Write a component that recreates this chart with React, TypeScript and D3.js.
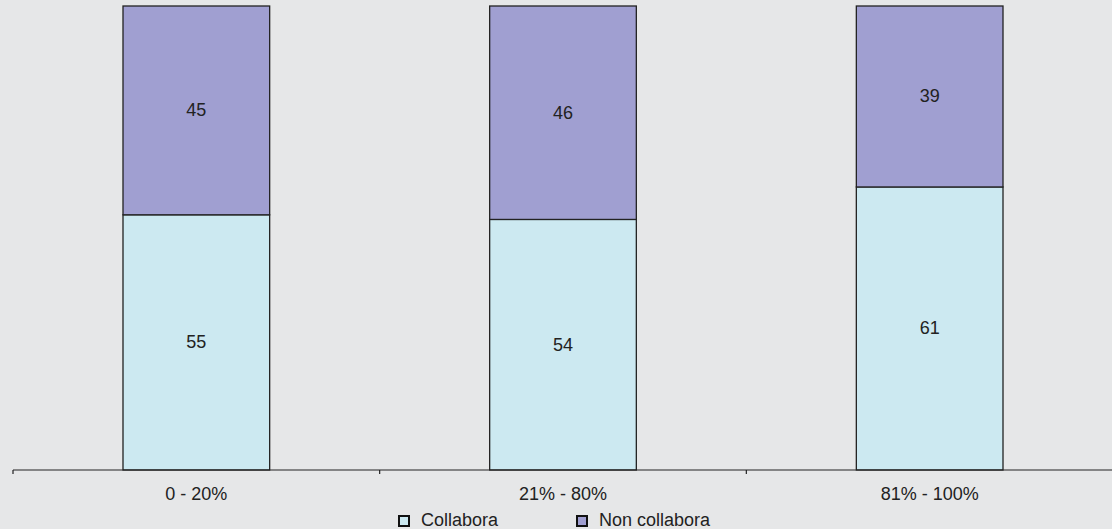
import React from "react";
import * as d3 from "d3";

const categories = ["0 - 20%", "21% - 80%", "81% - 100%"];
const collabora = [55, 54, 61];
const nonCollabora = [45, 46, 39];
const seriesNames = ["Collabora", "Non collabora"];
const seriesColors = ["#cce9f1", "#a09fd1"];

export default function App() {
  const W = 1112, H = 529;
  const x = d3.scaleBand().domain(categories).range([13, 1113]).paddingInner(0).paddingOuter(0);
  const y = d3.scaleLinear().domain([0, 100]).range([470, 6]);
  const bw = x.bandwidth() * 0.4;
  const font = "'Liberation Sans', Arial, sans-serif";
  const fs = 18;
  const series = [collabora, nonCollabora];
  const stacked = categories.map((c, i) => {
    let acc = 0;
    return series.map((s, k) => {
      const y0 = acc;
      acc += s[i];
      return { k, y0, y1: acc, v: s[i] };
    });
  });
  return (
    <svg width={W} height={H} style={{ position: "absolute", left: 0, top: 0, display: "block" }}>
      <rect x={0} y={0} width={W} height={H} fill="#e6e7e8" />
      {categories.map((c, i) => {
        const cx = (x(c) as number) + x.bandwidth() / 2;
        return (
          <g key={c}>
            {stacked[i].map((d) => (
              <g key={d.k}>
                <rect x={cx - bw / 2} y={y(d.y1)} width={bw} height={y(d.y0) - y(d.y1)}
                  fill={seriesColors[d.k]} stroke="#222" strokeWidth={1.3} />
                <text x={cx} y={(y(d.y0) + y(d.y1)) / 2 + 6} textAnchor="middle"
                  fontFamily={font} fontSize={fs} fill="#222">{d.v}</text>
              </g>
            ))}
            <text x={cx} y={499.5} textAnchor="middle" fontFamily={font} fontSize={fs} fill="#222">{c}</text>
          </g>
        );
      })}
      <line x1={13} x2={1113} y1={470} y2={470} stroke="#222" strokeWidth={1.2} />
      {[0, 1, 2, 3].map((i) => {
        const tx = 13 + i * x.bandwidth();
        return <line key={i} x1={tx} x2={tx} y1={470} y2={474} stroke="#222" strokeWidth={1.2} />;
      })}
      {seriesNames.map((n, k) => {
        const lx = [399, 577][k];
        return (
          <g key={n}>
            <rect x={lx} y={516} width={10} height={10} fill={seriesColors[k]} stroke="#111" strokeWidth={2} />
            <text x={lx + 22} y={526} fontFamily={font} fontSize={fs} fill="#222">{n}</text>
          </g>
        );
      })}
    </svg>
  );
}
